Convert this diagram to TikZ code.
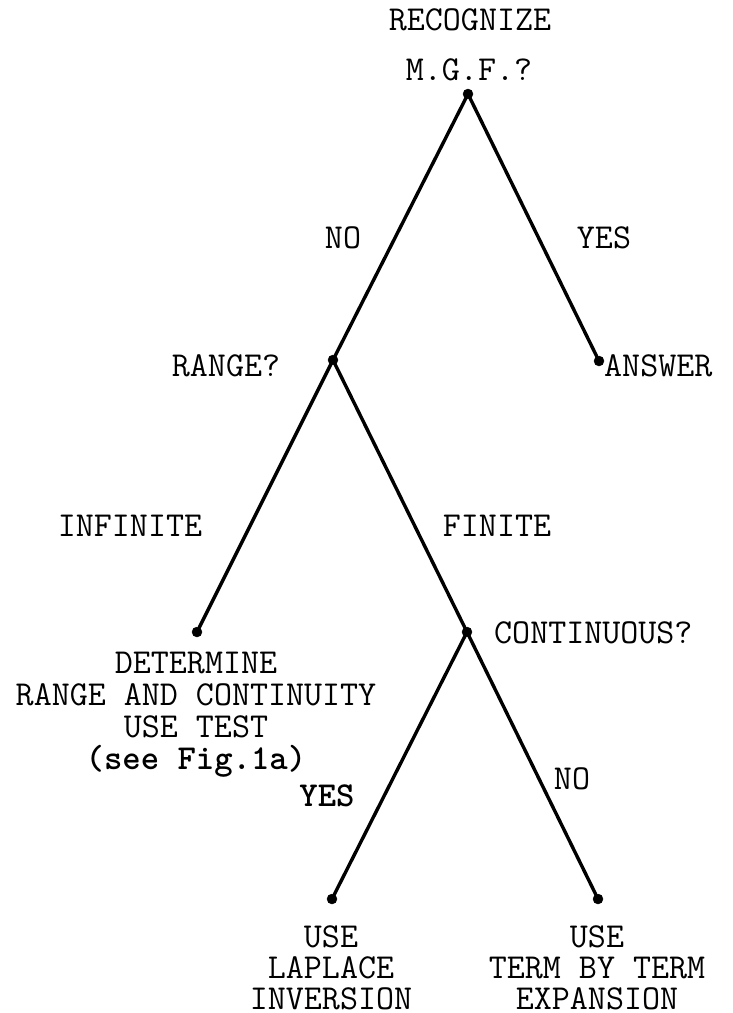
\documentclass[tikz,border=0pt]{standalone}
\begin{document}
\begin{tikzpicture}[x=1pt,y=-1pt,
  tw/.style={font=\fontsize{35}{32}\selectfont\ttfamily, inner sep=0pt, align=center},
  twb/.style={tw, font=\fontsize{35}{32}\selectfont\ttfamily\bfseries},
  tws/.style={tw, font=\fontsize{35}{31}\selectfont\ttfamily},
  dot/.style={circle, fill=black, draw=black, inner sep=0pt, minimum size=10pt},
  branch/.style={line width=3.4pt, line cap=round}]
\useasboundingbox (0,0) rectangle (733,1013);
% decision points
\node[dot] (root) at (468,94) {};
\node[dot] (answer) at (599,361) {};
\node[dot] (range) at (333,360) {};
\node[dot] (inf) at (197,632) {};
\node[dot] (cont) at (467,632) {};
\node[dot] (lap) at (332,899) {};
\node[dot] (term) at (598,899) {};
% branches
\draw[branch] (root) -- (range);
\draw[branch] (root) -- (answer);
\draw[branch] (range) -- (inf);
\draw[branch] (range) -- (cont);
\draw[branch] (cont) -- (lap);
\draw[branch] (cont) -- (term);
% labels
\node[tw] (t1) at (470,20) {RECOGNIZE};
\node[tw] (t2) at (469,70) {M.G.F.?};
\node[tw] (lno1) at (343,238) {NO};
\node[tw] (lyes1) at (604,238) {YES};
\node[tw] (trange) at (226,366) {RANGE?};
\node[tw, anchor=west] (tans) at (604,366) {ANSWER};
\node[tw] (linf) at (130,526) {INFINITE};
\node[tw] (lfin) at (497,526) {FINITE};
\node[tw, anchor=west] (tcont) at (494,633) {CONTINUOUS?};
\node[tw, anchor=north] (tdet) at (196,652) {DETERMINE\\RANGE AND CONTINUITY\\USE TEST\\\textbf{(see Fig.1a)}};
\node[twb] (lyes2) at (327,796) {YES};
\node[tw] (lno2) at (572,779) {NO};
\node[tws, anchor=north] (tlap) at (331,925) {USE\\LAPLACE\\INVERSION};
\node[tws, anchor=north] (tterm) at (597,925) {USE\\TERM BY TERM\\EXPANSION};
\end{tikzpicture}
\end{document}
